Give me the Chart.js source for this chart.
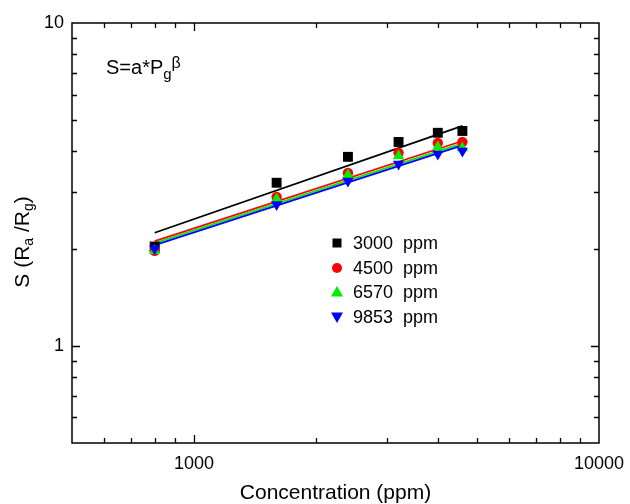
<!DOCTYPE html>
<html>
<head>
<meta charset="utf-8">
<script src="https://cdn.jsdelivr.net/npm/chart.js@4.4.1/dist/chart.umd.min.js"></script>
<style>
  html,body{margin:0;padding:0;background:#fff;}
  #wrap{width:630px;height:504px;}
</style>
</head>
<body>
<div id="wrap"><canvas id="c" width="630" height="504"></canvas></div>
<script>
// --- Data ---
const conc = [800, 1600, 2400, 3200, 4000, 4600];
const s3000 = [2.03, 3.20, 3.85, 4.28, 4.57, 4.63];
const s4500 = [1.97, 2.89, 3.43, 3.96, 4.25, 4.28];
const s6570 = [1.97, 2.85, 3.38, 3.87, 4.13, 4.10];
const s9853 = [2.00, 2.74, 3.24, 3.66, 3.93, 4.01];
// fitted lines S=a*Pg^b, end points
const fitX = [800, 4600];
const fit3000 = [2.24, 4.80];
const fit4500 = [2.11, 4.31];
const fit6570 = [2.08, 4.24];
const fit9853 = [2.05, 4.18];
const seriesNames = ['3000  ppm', '4500  ppm', '6570  ppm', '9853  ppm'];
const xTicks = [500,600,700,800,900,1000,2000,3000,4000,5000,6000,7000,8000,9000,10000];
const yTicks = [0.5,0.6,0.7,0.8,0.9,1,2,3,4,5,6,7,8,9,10];
const xLabels = [1000, 10000];
const yLabels = [1, 10];

const FONT = '"Liberation Sans", Arial, Helvetica, sans-serif';
const colors = ['#000000', '#ff0000', '#00ee00', '#0000ff'];
const styles = [
  {pointStyle:'rect', radius:7, rotation:0},
  {pointStyle:'circle', radius:5.2, rotation:0},
  {pointStyle:'triangle', radius:6.5, rotation:0},
  {pointStyle:'triangle', radius:6.5, rotation:180}
];

const pts = (xs, ys) => xs.map((x, i) => ({x: x, y: ys[i]}));
const fits = [fit3000, fit4500, fit6570, fit9853];
const series = [s3000, s4500, s6570, s9853];

const datasets = [];
fits.forEach((f, i) => {
  datasets.push({
    data: pts(fitX, f), showLine: true, borderColor: colors[i], borderWidth: 1.8,
    pointRadius: 0, fill: false, order: 10 - i
  });
});
series.forEach((s, i) => {
  datasets.push({
    data: pts(conc, s), showLine: false, pointStyle: styles[i].pointStyle,
    pointRadius: styles[i].radius, pointRotation: styles[i].rotation,
    backgroundColor: colors[i], borderColor: colors[i], borderWidth: 0, order: 5 - i
  });
});

// frame, inward ticks on all four sides, titles, legend, formula
const decor = {
  id: 'decor',
  afterDraw(chart) {
    const ctx = chart.ctx, a = chart.chartArea;
    const xs = chart.scales.x, ys = chart.scales.y;
    ctx.save();
    ctx.strokeStyle = '#000';
    ctx.lineWidth = 1.5;
    ctx.strokeRect(a.left, a.top, a.right - a.left, a.bottom - a.top);
    ctx.lineWidth = 1.3;
    xTicks.forEach(v => {
      if (v <= xs.min || v >= xs.max) return;
      const px = Math.round(xs.getPixelForValue(v)) + 0.5;
      const len = xLabels.includes(v) ? 8 : 5;
      ctx.beginPath();
      ctx.moveTo(px, a.bottom); ctx.lineTo(px, a.bottom - len);
      ctx.moveTo(px, a.top); ctx.lineTo(px, a.top + len);
      ctx.stroke();
    });
    yTicks.forEach(v => {
      if (v <= ys.min || v >= ys.max) return;
      const py = Math.round(ys.getPixelForValue(v)) + 0.5;
      const len = yLabels.includes(v) ? 8 : 5;
      ctx.beginPath();
      ctx.moveTo(a.left, py); ctx.lineTo(a.left + len, py);
      ctx.moveTo(a.right, py); ctx.lineTo(a.right - len, py);
      ctx.stroke();
    });

    ctx.fillStyle = '#000';
    ctx.textBaseline = 'alphabetic';

    // x title
    ctx.font = '21px ' + FONT;
    ctx.textAlign = 'center';
    ctx.fillText('Concentration (ppm)', (a.left + a.right) / 2, 499);

    // y title with subscripts
    const parts = [['S (R', 21, 0], ['a', 14, 4], [' /R', 21, 0], ['g', 14, 4], [')', 21, 0]];
    let total = 0;
    parts.forEach(p => { ctx.font = p[1] + 'px ' + FONT; total += ctx.measureText(p[0]).width; });
    ctx.translate(29, 242);
    ctx.rotate(-Math.PI / 2);
    ctx.textAlign = 'left';
    let cx = -total / 2;
    parts.forEach(p => {
      ctx.font = p[1] + 'px ' + FONT;
      ctx.fillText(p[0], cx, p[2]);
      cx += ctx.measureText(p[0]).width;
    });
    ctx.setTransform(1, 0, 0, 1, 0, 0);

    // formula
    ctx.textAlign = 'left';
    ctx.font = '20px ' + FONT;
    let fx = 106;
    ctx.fillText('S=a*P', fx, 74);
    fx += ctx.measureText('S=a*P').width;
    ctx.font = '15px ' + FONT;
    ctx.fillText('g', fx, 79);
    fx += ctx.measureText('g').width;
    ctx.font = '16px ' + FONT;
    ctx.fillText('\u03b2', fx, 68);

    // legend
    const lx = 337, ly = [243, 268, 292, 317];
    ly.forEach((y, i) => {
      ctx.fillStyle = colors[i];
      ctx.beginPath();
      if (i === 0) {
        ctx.rect(lx - 4.5, y - 4.5, 9, 9);
      } else if (i === 1) {
        ctx.arc(lx, y, 5, 0, Math.PI * 2);
      } else if (i === 2) {
        ctx.moveTo(lx, y - 6); ctx.lineTo(lx + 6, y + 4.5); ctx.lineTo(lx - 6, y + 4.5); ctx.closePath();
      } else {
        ctx.moveTo(lx, y + 6); ctx.lineTo(lx + 6, y - 4.5); ctx.lineTo(lx - 6, y - 4.5); ctx.closePath();
      }
      ctx.fill();
      ctx.fillStyle = '#000';
      ctx.font = '18px ' + FONT;
      ctx.textBaseline = 'middle';
      ctx.fillText(seriesNames[i], lx + 16, y + 1);
    });
    ctx.restore();
  }
};

new Chart(document.getElementById('c').getContext('2d'), {
  type: 'scatter',
  data: {datasets: datasets},
  options: {
    responsive: false,
    animation: false,
    layout: {padding: {top: 23, right: 31, left: 0, bottom: 0}},
    plugins: {legend: {display: false}, tooltip: {enabled: false}},
    scales: {
      x: {
        type: 'logarithmic', min: 500, max: 10000,
        afterBuildTicks: s => { s.ticks = xTicks.map(v => ({value: v})); },
        afterFit: s => { s.height = 61; s.paddingLeft = 0; s.paddingRight = 0; },
        grid: {display: false, drawTicks: false},
        border: {display: false},
        ticks: {
          autoSkip: false, maxRotation: 0, padding: 10, color: '#000',
          font: {family: FONT, size: 18},
          callback: v => xLabels.includes(v) ? String(v) : ''
        }
      },
      y: {
        type: 'logarithmic', min: 0.5, max: 10,
        afterBuildTicks: s => { s.ticks = yTicks.map(v => ({value: v})); },
        afterFit: s => { s.width = 72; s.paddingTop = 0; s.paddingBottom = 0; },
        grid: {display: false, drawTicks: false},
        border: {display: false},
        ticks: {
          autoSkip: false, padding: 8, color: '#000',
          font: {family: FONT, size: 18},
          callback: v => yLabels.includes(v) ? String(v) : ''
        }
      }
    }
  },
  plugins: [decor]
});
</script>
</body>
</html>
